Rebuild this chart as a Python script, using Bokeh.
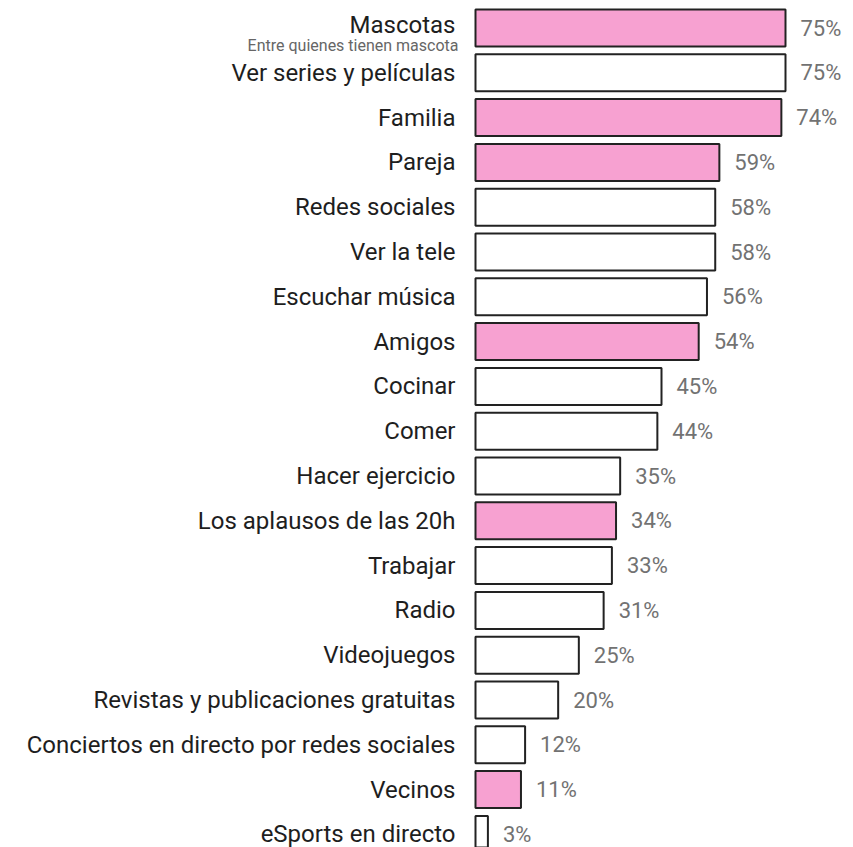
from bokeh.plotting import figure
from bokeh.models import ColumnDataSource, Range1d
from bokeh.core.properties import value
from bokeh.embed import file_html
from bokeh.resources import INLINE

categories = ["Mascotas", "Ver series y películas", "Familia", "Pareja", "Redes sociales",
              "Ver la tele", "Escuchar música", "Amigos", "Cocinar", "Comer",
              "Hacer ejercicio", "Los aplausos de las 20h", "Trabajar", "Radio",
              "Videojuegos", "Revistas y publicaciones gratuitas",
              "Conciertos en directo por redes sociales", "Vecinos", "eSports en directo"]
values = [75, 75, 74, 59, 58, 58, 56, 54, 45, 44, 35, 34, 33, 31, 25, 20, 12, 11, 3]
highlighted = ["Mascotas", "Familia", "Pareja", "Amigos", "Los aplausos de las 20h", "Vecinos"]
subtitle = "Entre quienes tienen mascota"

PINK = "#F7A1D1"
rows = list(range(len(categories)))
fills = [PINK if c in highlighted else "#FFFFFF" for c in categories]
labels = [f"{v}%" for v in values]

W, H = 853, 847
px_per_unit = 310 / 75
x0 = -475 / px_per_unit
row_px = 44.8
y_top = -27.5 / row_px
y_bot = y_top + H / row_px

cat_y = [r - 3 / row_px if c == "Mascotas" else r for r, c in zip(rows, categories)]

src = ColumnDataSource(dict(cat=categories, val=values, row=rows, fill=fills,
                            lab=labels, cy=cat_y, zero=[0] * len(values)))

p = figure(width=W, height=H, output_backend="svg", toolbar_location=None,
           x_range=Range1d(x0, x0 + W / px_per_unit),
           y_range=Range1d(y_bot, y_top), min_border=0)
p.axis.visible = False
p.grid.visible = False
p.outline_line_color = None
p.background_fill_color = "white"
p.border_fill_color = "white"

p.hbar(y="row", left=0, right="val", height=0.826, source=src,
       fill_color="fill", line_color="#222222", line_width=2)

p.text(x="zero", y="cy", text="cat", source=src, x_offset=-20,
       text_align="right", text_baseline="middle", text_font=value("Roboto"),
       text_font_size="24px", text_color="#1e1e1e")

p.text(x=[0], y=[17.5 / row_px], text=[subtitle], x_offset=-17,
       text_align="right", text_baseline="middle", text_font=value("Roboto"),
       text_font_size="16px", text_color="#666666")

p.text(x="val", y="row", text="lab", source=src, x_offset=15,
       text_align="left", text_baseline="middle", text_font=value("Roboto"),
       text_font_size="22px", text_color="#727272")

open("out.html", "w").write(file_html(p, INLINE))
